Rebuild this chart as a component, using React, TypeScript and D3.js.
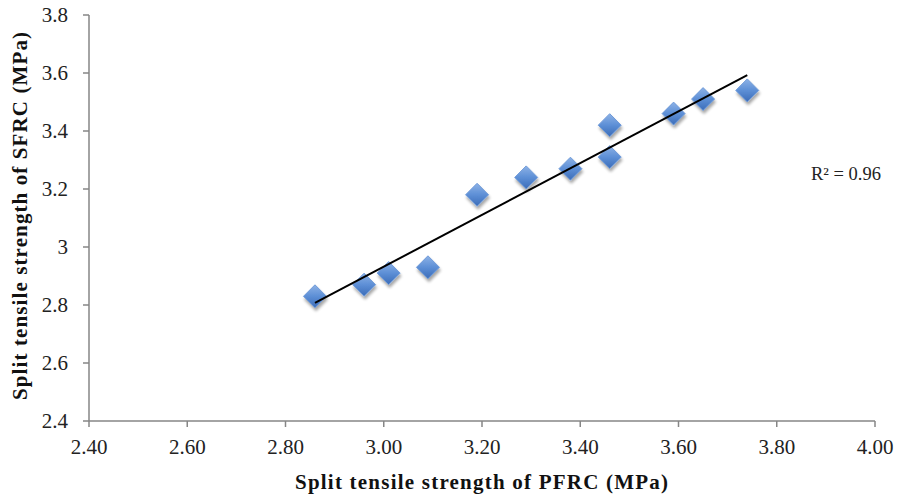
import React from "react";
import * as d3 from "d3";

const pfrc: number[] = [2.86, 2.96, 3.01, 3.09, 3.19, 3.29, 3.38, 3.46, 3.46, 3.59, 3.65, 3.74];
const sfrc: number[] = [2.83, 2.87, 2.91, 2.93, 3.18, 3.24, 3.27, 3.42, 3.31, 3.46, 3.51, 3.54];
const xTicks: number[] = [2.4, 2.6, 2.8, 3.0, 3.2, 3.4, 3.6, 3.8, 4.0];
const yTicks: number[] = [2.4, 2.6, 2.8, 3.0, 3.2, 3.4, 3.6, 3.8];
const xTitle = "Split tensile strength of PFRC (MPa)";
const yTitle = "Split tensile strength of SFRC (MPa)";
const r2Label = "R² = 0.96";

export default function App() {
  const W = 906, H = 499;
  const left = 89, right = 875, top = 15, bottom = 421;
  const x = d3.scaleLinear().domain([2.4, 4.0]).range([left, right]);
  const y = d3.scaleLinear().domain([2.4, 3.8]).range([bottom, top]);

  const mx = d3.mean(pfrc)!;
  const my = d3.mean(sfrc)!;
  let sxy = 0, sxx = 0;
  pfrc.forEach((v, i) => { sxy += (v - mx) * (sfrc[i] - my); sxx += (v - mx) ** 2; });
  const b = sxy / sxx;
  const a = my - b * mx;
  const [x0, x1] = d3.extent(pfrc) as [number, number];

  const font = "'Liberation Serif', 'DejaVu Serif', serif";
  const axisColor = "#868686";
  const s = 11.5;
  const diamond = `M0,${-s} L${s},0 L0,${s} L${-s},0 Z`;

  return (
    <svg width={W} height={H} style={{ position: "absolute", left: 0, top: 0 }}>
      <defs>
        <linearGradient id="mk" x1="0" y1="0" x2="0" y2="1">
          <stop offset="0" stopColor="#8db2e6" />
          <stop offset="0.5" stopColor="#5d8fd6" />
          <stop offset="1" stopColor="#3b6cb8" />
        </linearGradient>
        <filter id="sh" x="-50%" y="-50%" width="200%" height="200%">
          <feGaussianBlur in="SourceAlpha" stdDeviation="1.8" />
          <feOffset dx="1" dy="2.5" result="b" />
          <feComponentTransfer><feFuncA type="linear" slope="0.35" /></feComponentTransfer>
          <feMerge><feMergeNode /><feMergeNode in="SourceGraphic" /></feMerge>
        </filter>
      </defs>
      <rect width={W} height={H} fill="#fff" />
      <line x1={left} x2={left} y1={top} y2={bottom} stroke={axisColor} strokeWidth={1.5} />
      <line x1={left} x2={right} y1={bottom} y2={bottom} stroke={axisColor} strokeWidth={1.5} />
      {yTicks.map((t) => (
        <g key={"y" + t}>
          <line x1={left - 6} x2={left} y1={y(t)} y2={y(t)} stroke={axisColor} strokeWidth={1.5} />
          <text x={68} y={y(t) + 7} textAnchor="end" fontFamily={font} fontSize={21} fill="#222">
            {t === 3 ? "3" : t.toFixed(1)}
          </text>
        </g>
      ))}
      {xTicks.map((t) => (
        <g key={"x" + t}>
          <line x1={x(t)} x2={x(t)} y1={bottom} y2={bottom + 6} stroke={axisColor} strokeWidth={1.5} />
          <text x={x(t)} y={454} textAnchor="middle" fontFamily={font} fontSize={21} fill="#222">
            {t.toFixed(2)}
          </text>
        </g>
      ))}
      {pfrc.map((v, i) => (
        <path key={"m" + i} d={diamond} transform={`translate(${x(v)},${y(sfrc[i])})`}
          fill="url(#mk)" stroke="#6f9ad8" strokeWidth={1} filter="url(#sh)" />
      ))}
      <line x1={x(x0)} y1={y(a + b * x0)} x2={x(x1)} y2={y(a + b * x1)} stroke="#000" strokeWidth={2} />
      <text x={811} y={180} fontFamily={font} fontSize={18.5} fill="#222">{r2Label}</text>
      <text x={295} y={489} fontFamily={font} fontSize={21} fontWeight="bold" fill="#111" textLength={373} lengthAdjust="spacing">
        {xTitle}
      </text>
      <text transform={`translate(27,400) rotate(-90)`} fontFamily={font} fontSize={21} fontWeight="bold" fill="#111" textLength={368} lengthAdjust="spacing">
        {yTitle}
      </text>
    </svg>
  );
}
